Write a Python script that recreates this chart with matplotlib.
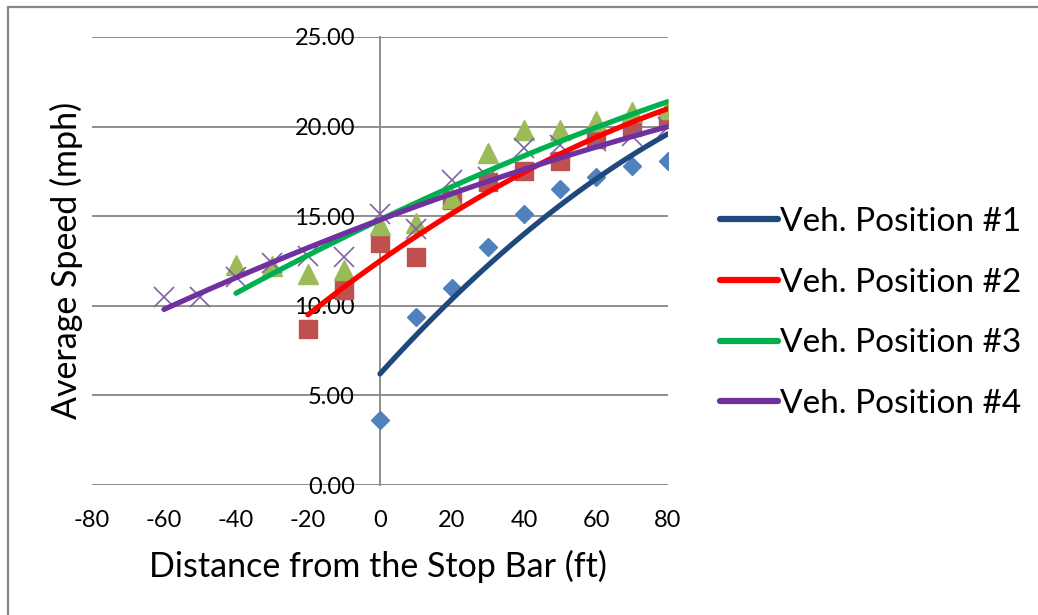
import numpy as np
import matplotlib
matplotlib.use("Agg")
from matplotlib import pyplot as plt
from matplotlib.patches import Rectangle

plt.rcParams['font.family'] = ['Lato', 'DejaVu Sans']

# measured speeds (mph) by distance from the stop bar (ft)
x1 = [0, 10, 20, 30, 40, 50, 60, 70, 80]
y1 = [3.6, 9.4, 11.0, 13.3, 15.1, 16.5, 17.2, 17.8, 18.1]

x2 = [-20, -10, 0, 10, 20, 30, 40, 50, 60, 70, 80]
y2 = [8.7, 10.9, 13.5, 12.7, 15.9, 16.9, 17.5, 18.1, 19.3, 20.0, 20.4]

x3 = [-40, -30, -20, -10, 0, 10, 20, 30, 40, 50, 60, 70, 80]
y3 = [12.3, 12.2, 11.8, 12.0, 14.5, 14.6, 16.0, 18.5, 19.8, 19.8, 20.3, 20.8, 21.0]

x4 = [-60, -50, -40, -30, -20, -10, 0, 10, 20, 30, 40, 50, 60, 70, 80]
y4 = [10.5, 10.5, 11.6, 12.4, 12.8, 12.7, 15.1, 14.3, 17.0, 17.2, 18.8, 19.0, 19.2, 19.5, 20.0]

# trendline coefficients (2nd order)
trend1 = [-0.000688, 0.2225, 6.2]
trend2 = [-0.0004375, 0.14125, 12.5]
trend3 = [-0.0001667, 0.0958, 14.8]
trend4 = [-0.000131, 0.0755, 14.8]

labels = ["Veh. Position #1", "Veh. Position #2", "Veh. Position #3", "Veh. Position #4"]
xticks = list(range(-80, 81, 20))

fig = plt.figure(figsize=(10.38, 6.15), dpi=100)
fig.patches.append(Rectangle((8/1038, -0.1), 1.2, 1 - 7/615 + 0.1, transform=fig.transFigure,
                             fill=False, edgecolor="#868686", linewidth=1.6))
ax = fig.add_axes([92/1038, 1 - 485/615, 576/1038, 448/615])

ax.plot(x1, y1, "D", color="#4F81BD", ms=9.5, zorder=3)
ax.plot(x2, y2, "s", color="#C0504D", ms=13, zorder=3)
ax.plot(x3, y3, "^", color="#9BBB59", ms=14, zorder=3)
ax.plot(x4, y4, "x", color="#8064A2", ms=15, mew=1.2, zorder=3)

trend_cols = ["#1F497D", "#FF0000", "#00B050", "#7030A0"]
for xs, c, col, lab in zip([x1, x2, x3, x4], [trend1, trend2, trend3, trend4], trend_cols, labels):
    xx = np.linspace(xs[0], xs[-1], 100)
    ax.plot(xx, np.polyval(c, xx), color=col, lw=3.8, solid_capstyle="round", label=lab, zorder=4)

ax.set_xlim(-80, 80)
ax.set_ylim(0, 25)
ax.set_xticks(xticks)
ax.set_xticklabels([str(v) for v in xticks])
ax.set_yticks(np.arange(0, 25.1, 5))
ax.set_yticklabels(["%.2f" % v for v in np.arange(0, 25.1, 5)])
ax.yaxis.grid(True, color="#868686", lw=1.3)
ax.set_axisbelow(True)
for s in ["top", "right", "bottom"]:
    ax.spines[s].set_visible(False)
ax.spines["left"].set_position(("data", 0))
ax.spines["left"].set_color("#868686")
ax.spines["left"].set_linewidth(1.3)
ax.tick_params(axis="both", length=0, labelsize=17)
ax.tick_params(axis="y", pad=18)
ax.tick_params(axis="x", pad=18)

fig.text(66/1038, 1 - 260/615, "Average Speed (mph)", rotation=90, fontsize=24.5,
         ha="center", va="center")
fig.text(378/1038, 1 - 566/615, "Distance from the Stop Bar (ft)", fontsize=24.5,
         ha="center", va="center")

leg = ax.legend(loc="center left", bbox_to_anchor=(720/1038, 1 - 313/615),
                bbox_transform=fig.transFigure, frameon=False, fontsize=24,
                handlelength=1.75, handletextpad=0.05, labelspacing=0.92,
                borderaxespad=0, borderpad=0)
for h in leg.get_lines():
    h.set_linewidth(4.5)

fig.savefig("out.png", dpi=100)
